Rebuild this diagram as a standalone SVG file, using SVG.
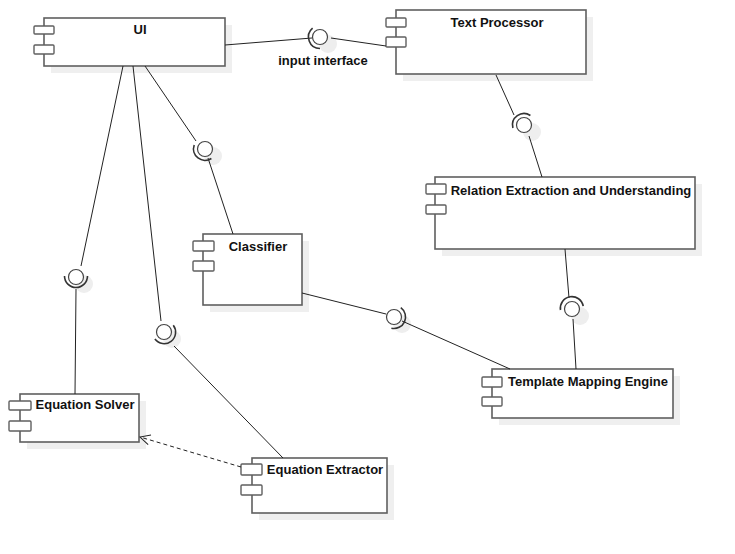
<svg xmlns="http://www.w3.org/2000/svg" width="735" height="554" viewBox="0 0 735 554">
<defs>
<style>
.shadow{fill:#efefef;stroke:none}
.box{fill:#fff;stroke:#5f5f5f;stroke-width:1.6}
.port{fill:#fff;stroke:#5f5f5f;stroke-width:1.4}
.lbl{font-family:"Liberation Sans",Arial,sans-serif;font-weight:bold;font-size:13px;fill:#111;text-anchor:middle}
.ln{stroke:#222;stroke-width:1;fill:none}
.dash{stroke:#222;stroke-width:1;fill:none;stroke-dasharray:4 3}
.ball{fill:#fff;stroke:#444;stroke-width:1.2}
.sock{fill:none;stroke:#333;stroke-width:1.6}
.cshadow{fill:#eeeeee}
</style>
<marker id="open" viewBox="0 0 12 12" refX="11" refY="6" markerWidth="12" markerHeight="12" markerUnits="userSpaceOnUse" orient="auto">
<path d="M1,1 L11,6 L1,11" fill="none" stroke="#222" stroke-width="1"/>
</marker>
</defs>
<rect width="735" height="554" fill="#fff"/>

<g id="ui">
<rect class="shadow" x="51" y="25" width="181" height="48"/>
<rect class="box" x="44" y="18" width="181" height="48"/>
<rect class="port" x="34" y="26" width="20" height="8" rx="1"/>
<rect class="port" x="34" y="45" width="20" height="9" rx="1"/>
<text class="lbl" x="140" y="34">UI</text>
</g>

<g id="text-processor">
<rect class="shadow" x="403" y="17" width="190" height="64"/>
<rect class="box" x="396" y="10" width="190" height="64"/>
<rect class="port" x="386" y="18" width="20" height="9" rx="1"/>
<rect class="port" x="386" y="37" width="20" height="10" rx="1"/>
<text class="lbl" x="497" y="27">Text Processor</text>
</g>

<g id="relation-extraction">
<rect class="shadow" x="442" y="184" width="260" height="72"/>
<rect class="box" x="435" y="177" width="260" height="72"/>
<rect class="port" x="426" y="184" width="20" height="10" rx="1"/>
<rect class="port" x="426" y="205" width="20" height="9" rx="1"/>
<text class="lbl" x="571" y="195">Relation Extraction and Understanding</text>
</g>

<g id="classifier">
<rect class="shadow" x="210" y="241" width="99" height="71"/>
<rect class="box" x="203" y="234" width="99" height="71"/>
<rect class="port" x="193" y="241" width="21" height="10" rx="1"/>
<rect class="port" x="193" y="261" width="21" height="10" rx="1"/>
<text class="lbl" x="258" y="251">Classifier</text>
</g>

<g id="template-mapping-engine">
<rect class="shadow" x="499" y="376" width="181" height="49"/>
<rect class="box" x="492" y="369" width="181" height="49"/>
<rect class="port" x="482" y="377" width="20" height="10" rx="1"/>
<rect class="port" x="482" y="397" width="20" height="9" rx="1"/>
<text class="lbl" x="588" y="386">Template Mapping Engine</text>
</g>

<g id="equation-solver">
<rect class="shadow" x="27" y="401" width="119" height="48"/>
<rect class="box" x="20" y="394" width="119" height="48"/>
<rect class="port" x="9" y="401" width="22" height="9" rx="1"/>
<rect class="port" x="9" y="421" width="22" height="10" rx="1"/>
<text class="lbl" x="85" y="409">Equation Solver</text>
</g>

<g id="equation-extractor">
<rect class="shadow" x="259" y="465" width="135" height="55"/>
<rect class="box" x="252" y="458" width="135" height="55"/>
<rect class="port" x="241" y="464" width="21" height="11" rx="1"/>
<rect class="port" x="241" y="485" width="21" height="10" rx="1"/>
<text class="lbl" x="325" y="474">Equation Extractor</text>
</g>

<g id="connectors">
<g id="lollipop-shadows">
<circle class="cshadow" cx="328" cy="44" r="9"/>
<circle class="cshadow" cx="532" cy="132" r="9"/>
<circle class="cshadow" cx="580" cy="316" r="9"/>
<circle class="cshadow" cx="213" cy="156" r="9"/>
<circle class="cshadow" cx="84" cy="284" r="9"/>
<circle class="cshadow" cx="172" cy="339" r="9"/>
<circle class="cshadow" cx="402" cy="324" r="9"/>
</g>
<g id="lines">
<line class="ln" x1="225" y1="45" x2="312" y2="38"/>
<line class="ln" x1="331" y1="38" x2="386" y2="46"/>
<line class="ln" x1="496" y1="75" x2="514" y2="115"/>
<line class="ln" x1="529" y1="136" x2="542" y2="177"/>
<line class="ln" x1="565" y1="249" x2="569" y2="298"/>
<line class="ln" x1="573" y1="319" x2="576" y2="369"/>
<line class="ln" x1="145" y1="66" x2="196" y2="141"/>
<line class="ln" x1="208" y1="158" x2="233" y2="234"/>
<line class="ln" x1="123" y1="66" x2="81" y2="266"/>
<line class="ln" x1="76" y1="289" x2="75" y2="394"/>
<line class="ln" x1="133" y1="66" x2="161" y2="321"/>
<line class="ln" x1="174" y1="346" x2="283" y2="458"/>
<line class="ln" x1="302" y1="293" x2="386" y2="314"/>
<line class="ln" x1="402" y1="321" x2="510" y2="369"/>
<line class="dash" x1="241" y1="467" x2="140" y2="437" marker-end="url(#open)"/>
</g>
<g id="input-interface">
<circle class="ball" cx="320" cy="37" r="7.5"/>
<path class="sock" d="M320,48.5 A11.5,11.5 0 0 1 312.6,28.2"/>
<text class="lbl" x="323" y="65">input interface</text>
</g>
<g id="iface-tp-rel">
<circle class="ball" cx="524" cy="125" r="7.5"/>
<path class="sock" d="M512.9,128 A11.5,11.5 0 0 1 530.4,115.5"/>
</g>
<g id="iface-rel-tme">
<circle class="ball" cx="572" cy="309" r="7.5"/>
<path class="sock" d="M560.5,310 A11.5,11.5 0 0 1 583.2,306.2"/>
</g>
<g id="iface-ui-cls">
<circle class="ball" cx="205" cy="149" r="7.5"/>
<path class="sock" d="M211.4,158.5 A11.5,11.5 0 0 1 194.2,145.1"/>
</g>
<g id="iface-ui-solver">
<circle class="ball" cx="76" cy="277" r="7.5"/>
<path class="sock" d="M87.5,276 A11.5,11.5 0 1 1 64.5,276"/>
</g>
<g id="iface-ui-extractor">
<circle class="ball" cx="164" cy="332" r="7.5"/>
<path class="sock" d="M173.3,325.2 A11.5,11.5 0 0 1 154.9,339.1"/>
</g>
<g id="iface-cls-tme">
<circle class="ball" cx="394" cy="317" r="7.5"/>
<path class="sock" d="M400.8,307.7 A11.5,11.5 0 0 1 391.4,328.2"/>
</g>
</g>
</svg>
